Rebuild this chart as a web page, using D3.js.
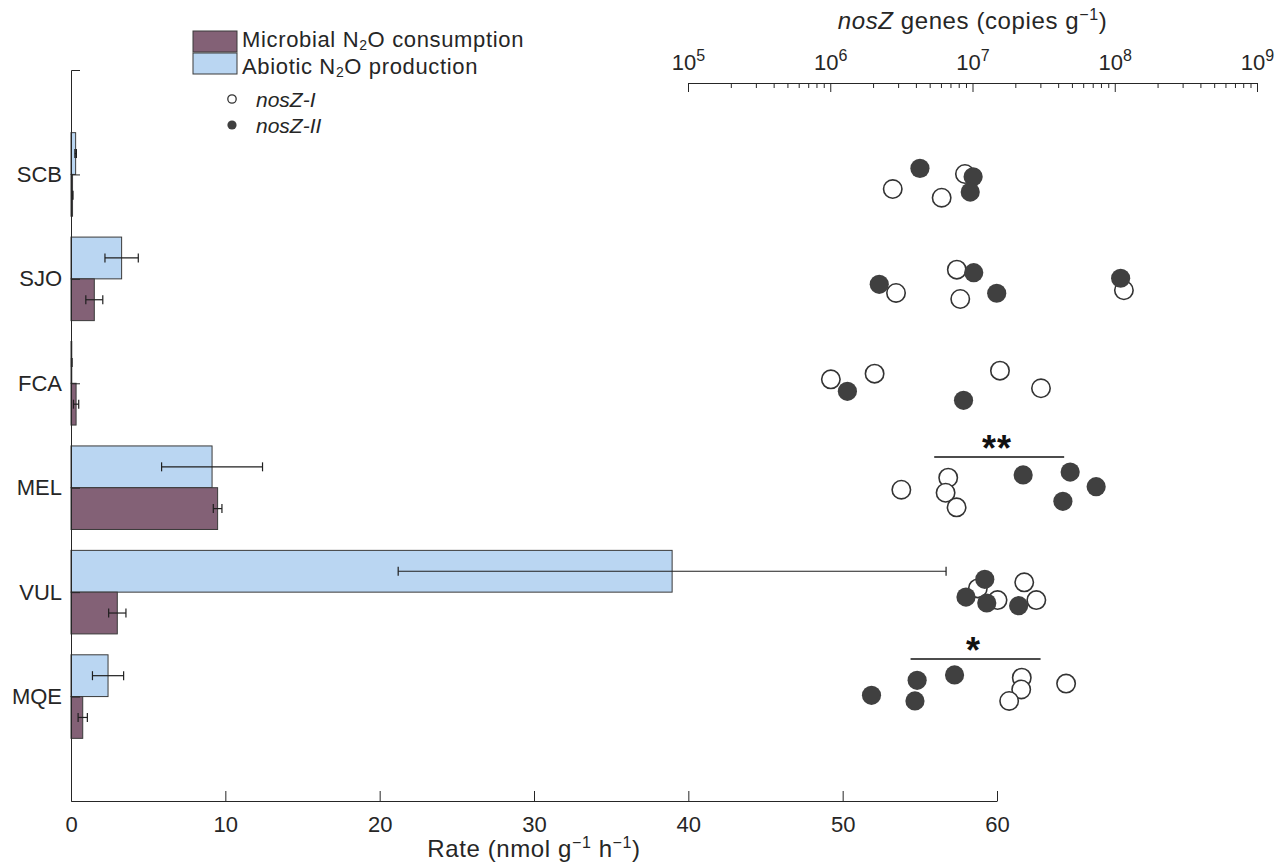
<!DOCTYPE html>
<html>
<head>
<meta charset="utf-8">
<script src="https://cdn.jsdelivr.net/npm/d3@7"></script>
<style>
  body { margin: 0; background: #fff; }
  svg { font-family: 'Liberation Sans', Arial, sans-serif; }
</style>
</head>
<body>
<div id="chart"></div>
<script>
// rates (nmol g-1 h-1), mean and standard error per site
const sites = ['SCB', 'SJO', 'FCA', 'MEL', 'VUL', 'MQE'];
const abioticRate = [0.3, 3.28, 0.05, 9.14, 38.95, 2.4];
const abioticErr = [0.05, 1.08, 0.02, 3.27, 17.75, 1.01];
const microbialRate = [0.1, 1.51, 0.33, 9.5, 3.0, 0.76];
const microbialErr = [0.03, 0.55, 0.17, 0.28, 0.56, 0.3];
const rateTicks = [0, 10, 20, 30, 40, 50, 60];
const geneTicks = [1e5, 1e6, 1e7, 1e8, 1e9];

// nosZ copies g-1: [site, copies, offset inside the row (row units)]
const nosZI = [
  ['SCB', 8.85e6, -0.004], ['SCB', 2.75e6, 0.14], ['SCB', 6.07e6, 0.223],
  ['SJO', 7.76e6, -0.088], ['SJO', 2.9e6, 0.135], ['SJO', 8.2e6, 0.193], ['SJO', 1.16e8, 0.109],
  ['FCA', 1.01e6, -0.038], ['FCA', 2.05e6, -0.092], ['FCA', 1.56e7, -0.121], ['FCA', 3.03e7, 0.048],
  ['MEL', 3.16e6, 0.019], ['MEL', 6.75e6, -0.096], ['MEL', 6.47e6, 0.048], ['MEL', 7.73e6, 0.188],
  ['VUL', 1.09e7, -0.036], ['VUL', 1.5e7, 0.076], ['VUL', 2.31e7, -0.094], ['VUL', 2.81e7, 0.076],
  ['MQE', 2.22e7, -0.181], ['MQE', 2.2e7, -0.068], ['MQE', 1.81e7, 0.042], ['MQE', 4.55e7, -0.124]
];
const nosZII = [
  ['SCB', 4.27e6, -0.058], ['SCB', 1.01e7, 0.022], ['SCB', 9.64e6, 0.169],
  ['SJO', 1.02e7, -0.059], ['SJO', 2.21e6, 0.052], ['SJO', 1.48e7, 0.138], ['SJO', 1.1e8, -0.006],
  ['FCA', 1.32e6, 0.077], ['FCA', 8.65e6, 0.163],
  ['MEL', 2.27e7, -0.122], ['MEL', 4.86e7, -0.15], ['MEL', 7.4e7, -0.01], ['MEL', 4.32e7, 0.13],
  ['VUL', 1.22e7, -0.123], ['VUL', 9.0e6, 0.047], ['VUL', 1.26e7, 0.104], ['VUL', 2.11e7, 0.13],
  ['MQE', 1.95e6, -0.012], ['MQE', 4.08e6, -0.156], ['MQE', 3.94e6, 0.042], ['MQE', 7.48e6, -0.207]
];

// significance brackets
const sigSites = ['MEL', 'MQE'];
const sigLabels = ['**', '*'];
const sigFrom = [5.38e6, 3.67e6];
const sigTo = [4.41e7, 3.01e7];
const sigOffset = [-0.294, -0.36];

const width = 1275;
const height = 865;
const purple = '#836176';
const blue = '#bad6f2';
const ink = '#262626';

const svg = d3.select('#chart')
  .append('svg')
  .attr('width', width)
  .attr('height', height);

const x = d3.scaleLinear()
  .domain([0, 60])
  .range([71, 997]);
const y = d3.scalePoint()
  .domain(sites)
  .range([70, 801])
  .padding(1);
const xg = d3.scaleLog()
  .domain([1e5, 1e9])
  .range([688, 1257]);
const barH = y.step() * 0.4;

// bars
const rows = sites.map((s, i) => ({
  site: s,
  abiotic: abioticRate[i], abioticErr: abioticErr[i],
  microbial: microbialRate[i], microbialErr: microbialErr[i]
}));

svg.append('g')
  .selectAll('rect')
  .data(rows)
  .enter().append('rect')
  .attr('x', x(0))
  .attr('y', d => y(d.site) - barH)
  .attr('width', d => x(d.abiotic) - x(0))
  .attr('height', barH)
  .attr('fill', blue)
  .attr('stroke', '#3a3a3a')
  .attr('stroke-width', 1);

svg.append('g')
  .selectAll('rect')
  .data(rows)
  .enter().append('rect')
  .attr('x', x(0))
  .attr('y', d => y(d.site))
  .attr('width', d => x(d.microbial) - x(0))
  .attr('height', barH)
  .attr('fill', purple)
  .attr('stroke', '#3a3a3a')
  .attr('stroke-width', 1);

// error bars
const errs = [];
rows.forEach(d => {
  errs.push({cy: y(d.site) - barH / 2, lo: d.abiotic - d.abioticErr, hi: d.abiotic + d.abioticErr});
  errs.push({cy: y(d.site) + barH / 2, lo: d.microbial - d.microbialErr, hi: d.microbial + d.microbialErr});
});
const errG = svg.append('g')
  .attr('stroke', '#1f1f1f')
  .attr('stroke-width', 1.2);
errG.selectAll('.eline')
  .data(errs)
  .enter().append('line')
  .attr('x1', d => x(d.lo))
  .attr('x2', d => x(d.hi))
  .attr('y1', d => d.cy)
  .attr('y2', d => d.cy);
errG.selectAll('.ecap')
  .data(errs.flatMap(d => [{cy: d.cy, v: d.lo}, {cy: d.cy, v: d.hi}]))
  .enter().append('line')
  .attr('x1', d => x(d.v))
  .attr('x2', d => x(d.v))
  .attr('y1', d => d.cy - 4.5)
  .attr('y2', d => d.cy + 4.5);

// axes
function styleAxis(g) {
  g.attr('font-family', null).attr('font-size', null);
  g.selectAll('path, line').attr('stroke', ink);
  g.selectAll('text').attr('fill', ink).style('font-size', '22px');
}

svg.append('g')
  .attr('transform', `translate(${x(0)}, 0)`)
  .call(d3.axisLeft(y).tickSizeInner(-9).tickSizeOuter(-9).tickPadding(9))
  .call(styleAxis);

svg.append('g')
  .attr('transform', 'translate(0, 801)')
  .call(d3.axisBottom(x).tickValues(rateTicks).tickSizeInner(-10).tickSizeOuter(0).tickPadding(15))
  .call(styleAxis);

const minorTicks = [];
[5, 6, 7, 8].forEach(e => {
  for (let k = 2; k <= 9; k++) minorTicks.push(k * Math.pow(10, e));
});
svg.append('g')
  .attr('transform', 'translate(0, 83)')
  .call(d3.axisTop(xg).tickValues(minorTicks).tickSizeInner(-5).tickSizeOuter(0).tickFormat(''))
  .call(styleAxis);
const topAxis = svg.append('g')
  .attr('transform', 'translate(0, 83)')
  .call(d3.axisTop(xg).tickValues(geneTicks).tickSizeInner(-9).tickSizeOuter(0).tickPadding(13))
  .call(styleAxis);
topAxis.select('.domain').remove();
topAxis.selectAll('.tick text')
  .text(null)
  .each(function(d) {
    const t = d3.select(this);
    t.append('tspan').text('10');
    t.append('tspan')
      .attr('dy', -9)
      .style('font-size', '16px')
      .text(Math.round(Math.log10(d)));
  });

// axis titles
const topTitle = svg.append('text')
  .attr('x', (xg.range()[0] + xg.range()[1]) / 2)
  .attr('y', 29)
  .attr('text-anchor', 'middle')
  .attr('fill', ink)
  .style('font-size', '24px')
  .style('letter-spacing', '0.6px');
topTitle.append('tspan').style('font-style', 'italic').text('nosZ');
topTitle.append('tspan').text(' genes (copies g');
topTitle.append('tspan').attr('dy', -9).style('font-size', '16px').text('\u22121');
topTitle.append('tspan').attr('dy', 9).text(')');

const bottomTitle = svg.append('text')
  .attr('x', (x.range()[0] + x.range()[1]) / 2)
  .attr('y', 857)
  .attr('text-anchor', 'middle')
  .attr('fill', ink)
  .style('font-size', '24px')
  .style('letter-spacing', '0.6px');
bottomTitle.append('tspan').text('Rate (nmol g');
bottomTitle.append('tspan').attr('dy', -9).style('font-size', '16px').text('\u22121');
bottomTitle.append('tspan').attr('dy', 9).text(' h');
bottomTitle.append('tspan').attr('dy', -9).style('font-size', '16px').text('\u22121');
bottomTitle.append('tspan').attr('dy', 9).text(')');

// gene points, open circles under filled ones
const ptsI = nosZI.map(d => ({site: d[0], v: d[1], off: d[2]}));
const ptsII = nosZII.map(d => ({site: d[0], v: d[1], off: d[2]}));

svg.append('g')
  .selectAll('circle')
  .data(ptsI)
  .enter().append('circle')
  .attr('cx', d => xg(d.v))
  .attr('cy', d => y(d.site) + d.off * y.step())
  .attr('r', 9.2)
  .attr('fill', '#fff')
  .attr('stroke', '#333')
  .attr('stroke-width', 1.6);

svg.append('g')
  .selectAll('circle')
  .data(ptsII)
  .enter().append('circle')
  .attr('cx', d => xg(d.v))
  .attr('cy', d => y(d.site) + d.off * y.step())
  .attr('r', 9.6)
  .attr('fill', '#404040');

// significance
const sig = sigSites.map((s, i) => ({
  site: s, label: sigLabels[i], from: sigFrom[i], to: sigTo[i], off: sigOffset[i]
}));
const sigG = svg.append('g');
sigG.selectAll('line')
  .data(sig)
  .enter().append('line')
  .attr('x1', d => xg(d.from))
  .attr('x2', d => xg(d.to))
  .attr('y1', d => y(d.site) + d.off * y.step())
  .attr('y2', d => y(d.site) + d.off * y.step())
  .attr('stroke', '#111')
  .attr('stroke-width', 1.3);
sigG.selectAll('text')
  .data(sig)
  .enter().append('text')
  .attr('x', d => Math.sqrt(xg(d.from) * xg(d.to)))
  .attr('y', d => y(d.site) + d.off * y.step() + 4)
  .attr('text-anchor', 'middle')
  .style('font-size', '36px')
  .style('font-weight', 'bold')
  .style('letter-spacing', '1px')
  .attr('fill', '#111')
  .text(d => d.label);

// legend
const legend = svg.append('g');
const legendBars = [
  {fill: purple, y: 31, base: 47, label: 'Microbial', rest: 'O consumption'},
  {fill: blue, y: 53, base: 74, label: 'Abiotic', rest: 'O production'}
];
legendBars.forEach(b => {
  legend.append('rect')
    .attr('x', 193)
    .attr('y', b.y)
    .attr('width', 44)
    .attr('height', 21)
    .attr('fill', b.fill)
    .attr('stroke', '#3a3a3a');
  const t = legend.append('text')
    .attr('x', 242)
    .attr('y', b.base)
    .attr('fill', ink)
    .style('font-size', '22px')
    .style('letter-spacing', '0.65px');
  t.append('tspan').text(`${b.label} N`);
  t.append('tspan').attr('dy', 3).style('font-size', '14px').text('2');
  t.append('tspan').attr('dy', -3).text(b.rest);
});
legend.append('circle')
  .attr('cx', 232).attr('cy', 99).attr('r', 4.2)
  .attr('fill', '#fff').attr('stroke', '#333').attr('stroke-width', 1.3);
legend.append('circle')
  .attr('cx', 232).attr('cy', 125).attr('r', 4.6)
  .attr('fill', '#404040');
legend.append('text')
  .attr('x', 256).attr('y', 107)
  .attr('fill', ink)
  .style('font-size', '21px')
  .style('font-style', 'italic')
  .text('nosZ-I');
legend.append('text')
  .attr('x', 256).attr('y', 133)
  .attr('fill', ink)
  .style('font-size', '21px')
  .style('font-style', 'italic')
  .text('nosZ-II');
</script>
</body>
</html>
